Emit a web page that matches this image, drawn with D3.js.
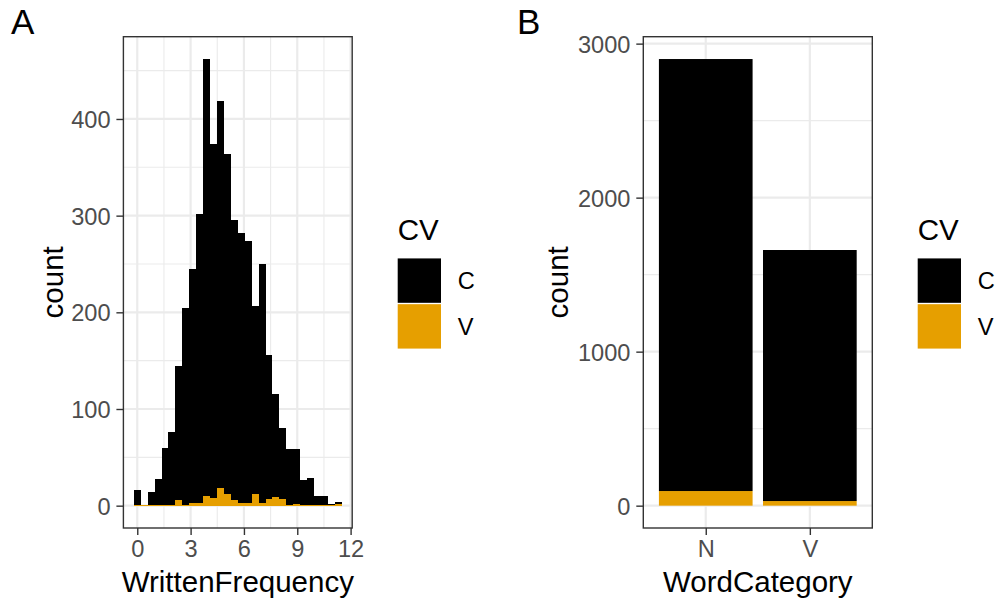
<!DOCTYPE html>
<html>
<head>
<meta charset="utf-8">
<script src="https://cdn.jsdelivr.net/npm/d3@7"></script>
<style>
  html, body { margin: 0; padding: 0; background: #fff; }
  svg { display: block; font-family: "Liberation Sans", Arial, Helvetica, sans-serif; }
</style>
</head>
<body>
<svg id="chart" width="997" height="602"></svg>
<script>
// ---------- Data ----------
// Panel A: histogram of WrittenFrequency (30 bins), stacked by CV
const binStart = [-0.195, 0.195, 0.585, 0.975, 1.365, 1.755, 2.145, 2.535, 2.925, 3.315,
                  3.705, 4.095, 4.485, 4.875, 5.265, 5.655, 6.045, 6.435, 6.825, 7.215,
                  7.605, 7.995, 8.385, 8.775, 9.165, 9.555, 9.945, 10.335, 10.725, 11.115];
const binWidth = 0.39;
const histC = [15, 0, 13, 27, 59, 75, 138, 203, 242, 299, 452, 366, 401, 352, 289,
               279, 271, 195, 247, 149, 106, 73, 58, 57, 26, 28, 9, 9, 1, 2];
const histV = [1, 1, 1, 1, 1, 1, 6, 1, 3, 3, 10, 8, 18, 12, 6,
               3, 3, 12, 3, 7, 9, 7, 1, 2, 1, 1, 1, 1, 1, 2];
const xTicksA = [0, 3, 6, 9, 12];
const xMinorA = [1.5, 4.5, 7.5, 10.5];
const yTicksA = [0, 100, 200, 300, 400];
const yMinorA = [50, 150, 250, 350, 450];

// Panel B: bar chart of WordCategory, stacked by CV
const wordCats = ["N", "V"];
const barC = [2805, 1630];
const barV = [95, 30];
const yTicksB = [0, 1000, 2000, 3000];
const yMinorB = [500, 1500, 2500];

// Legend
const cvLevels = ["C", "V"];
const cvColors = ["#000000", "#E69F00"];

// ---------- Drawing ----------
const svg = d3.select("#chart");
const fill = d3.scaleOrdinal().domain(cvLevels).range(cvColors);

const GRID = "#EBEBEB", INK = "#333333", TICKTXT = "#4D4D4D";
const tickFont = 23.6, titleFont = 29.5, tagFont = 35;

function styleAxis(g) {
  g.select(".domain").remove();
  g.selectAll(".tick line").attr("stroke", INK).attr("stroke-width", 1.4);
  g.selectAll(".tick text").attr("fill", TICKTXT).style("font-size", tickFont + "px");
}

function legend(x0, yTitle) {
  const lg = svg.append("g");
  lg.append("text").attr("x", x0).attr("y", yTitle)
    .style("font-size", titleFont + "px").attr("fill", "#000").text("CV");
  const ky = d3.scaleBand().domain(cvLevels).range([257.5, 349.5]).paddingInner(0.03).paddingOuter(0.02);
  cvLevels.forEach(lv => {
    lg.append("rect").attr("x", x0).attr("y", ky(lv)).attr("width", 43.3).attr("height", ky.bandwidth())
      .attr("fill", fill(lv));
    lg.append("text").attr("x", x0 + 60).attr("y", ky(lv) + ky.bandwidth() / 2 + 8.4)
      .style("font-size", tickFont + "px").attr("fill", "#000").text(lv);
  });
}

// ----- Panel A -----
(function () {
  const L = 123.4, R = 352.2, T = 36.7, B = 528;
  const xMin = binStart[0], xMax = binStart[binStart.length - 1] + binWidth;
  const totals = histC.map((c, i) => c + histV[i]);
  const yMaxData = d3.max(totals);
  const xs = d3.scaleLinear().domain([xMin - 0.05 * (xMax - xMin), xMax + 0.05 * (xMax - xMin)]).range([L, R]);
  const ys = d3.scaleLinear().domain([-0.05 * yMaxData, yMaxData * 1.05]).range([B, T]);

  const g = svg.append("g");
  g.append("rect").attr("x", L).attr("y", T).attr("width", R - L).attr("height", B - T).attr("fill", "#fff");
  // minor grid
  g.selectAll(null).data(xMinorA).enter().append("line")
    .attr("x1", d => xs(d)).attr("x2", d => xs(d)).attr("y1", T).attr("y2", B)
    .attr("stroke", GRID).attr("stroke-width", 1.1);
  g.selectAll(null).data(yMinorA).enter().append("line")
    .attr("y1", d => ys(d)).attr("y2", d => ys(d)).attr("x1", L).attr("x2", R)
    .attr("stroke", GRID).attr("stroke-width", 1.1);
  // major grid
  g.selectAll(null).data(xTicksA).enter().append("line")
    .attr("x1", d => xs(d)).attr("x2", d => xs(d)).attr("y1", T).attr("y2", B)
    .attr("stroke", GRID).attr("stroke-width", 2.2);
  g.selectAll(null).data(yTicksA).enter().append("line")
    .attr("y1", d => ys(d)).attr("y2", d => ys(d)).attr("x1", L).attr("x2", R)
    .attr("stroke", GRID).attr("stroke-width", 2.2);

  // stacked bars: V at bottom, C on top
  const bins = binStart.map((s, i) => ({ s, c: histC[i], v: histV[i] }));
  g.selectAll(null).data(bins.filter(d => d.v > 0)).enter().append("rect")
    .attr("x", d => xs(d.s)).attr("width", d => xs(d.s + binWidth) - xs(d.s))
    .attr("y", d => ys(d.v)).attr("height", d => ys(0) - ys(d.v))
    .attr("fill", fill("V")).attr("shape-rendering", "crispEdges");
  g.selectAll(null).data(bins.filter(d => d.c > 0)).enter().append("rect")
    .attr("x", d => xs(d.s)).attr("width", d => xs(d.s + binWidth) - xs(d.s))
    .attr("y", d => ys(d.v + d.c)).attr("height", d => ys(d.v) - ys(d.v + d.c))
    .attr("fill", fill("C")).attr("shape-rendering", "crispEdges");

  g.append("rect").attr("x", L).attr("y", T).attr("width", R - L).attr("height", B - T)
    .attr("fill", "none").attr("stroke", INK).attr("stroke-width", 1.4);

  const ax = g.append("g").attr("transform", `translate(0,${B})`)
    .call(d3.axisBottom(xs).tickValues(xTicksA).tickSize(7).tickPadding(5.7).tickFormat(d3.format("d")));
  styleAxis(ax);
  const ay = g.append("g").attr("transform", `translate(${L},0)`)
    .call(d3.axisLeft(ys).tickValues(yTicksA).tickSize(7).tickPadding(5.9).tickFormat(d3.format("d")));
  styleAxis(ay);
  ay.selectAll(".tick text").attr("dy", "0.358em");

  svg.append("text").attr("x", (L + R) / 2).attr("y", 592).attr("text-anchor", "middle")
    .style("font-size", titleFont + "px").text("WrittenFrequency");
  svg.append("text").attr("transform", `translate(63,${(T + B) / 2}) rotate(-90)`).attr("text-anchor", "middle")
    .style("font-size", titleFont + "px").text("count");
  svg.append("text").attr("x", 11).attr("y", 34).style("font-size", tagFont + "px").text("A");
  legend(397.7, 239.5);
})();

// ----- Panel B -----
(function () {
  const L = 643.3, R = 872.3, T = 36.7, B = 528;
  const totals = barC.map((c, i) => c + barV[i]);
  const yMaxData = d3.max(totals);
  const xs = d3.scalePoint().domain(wordCats).range([L + 0.6 / 2.2 * (R - L), R - 0.6 / 2.2 * (R - L)]);
  const unit = xs.step();
  const ys = d3.scaleLinear().domain([-0.05 * yMaxData, yMaxData * 1.05]).range([B, T]);

  const g = svg.append("g");
  g.append("rect").attr("x", L).attr("y", T).attr("width", R - L).attr("height", B - T).attr("fill", "#fff");
  g.selectAll(null).data(yMinorB).enter().append("line")
    .attr("y1", d => ys(d)).attr("y2", d => ys(d)).attr("x1", L).attr("x2", R)
    .attr("stroke", GRID).attr("stroke-width", 1.1);
  g.selectAll(null).data(wordCats).enter().append("line")
    .attr("x1", d => xs(d)).attr("x2", d => xs(d)).attr("y1", T).attr("y2", B)
    .attr("stroke", GRID).attr("stroke-width", 2.2);
  g.selectAll(null).data(yTicksB).enter().append("line")
    .attr("y1", d => ys(d)).attr("y2", d => ys(d)).attr("x1", L).attr("x2", R)
    .attr("stroke", GRID).attr("stroke-width", 2.2);

  const bars = wordCats.map((k, i) => ({ k, c: barC[i], v: barV[i] }));
  const bw = 0.9 * unit;
  g.selectAll(null).data(bars).enter().append("rect")
    .attr("x", d => xs(d.k) - bw / 2).attr("width", bw)
    .attr("y", d => ys(d.v)).attr("height", d => ys(0) - ys(d.v))
    .attr("fill", fill("V"));
  g.selectAll(null).data(bars).enter().append("rect")
    .attr("x", d => xs(d.k) - bw / 2).attr("width", bw)
    .attr("y", d => ys(d.v + d.c)).attr("height", d => ys(d.v) - ys(d.v + d.c))
    .attr("fill", fill("C"));

  g.append("rect").attr("x", L).attr("y", T).attr("width", R - L).attr("height", B - T)
    .attr("fill", "none").attr("stroke", INK).attr("stroke-width", 1.4);

  const ax = g.append("g").attr("transform", `translate(0,${B})`)
    .call(d3.axisBottom(xs).tickSize(7).tickPadding(5.7));
  styleAxis(ax);
  const ay = g.append("g").attr("transform", `translate(${L},0)`)
    .call(d3.axisLeft(ys).tickValues(yTicksB).tickSize(7).tickPadding(5.9).tickFormat(d3.format("d")));
  styleAxis(ay);
  ay.selectAll(".tick text").attr("dy", "0.358em");

  svg.append("text").attr("x", (L + R) / 2).attr("y", 592).attr("text-anchor", "middle")
    .style("font-size", titleFont + "px").text("WordCategory");
  svg.append("text").attr("transform", `translate(568,${(T + B) / 2}) rotate(-90)`).attr("text-anchor", "middle")
    .style("font-size", titleFont + "px").text("count");
  svg.append("text").attr("x", 517, ).attr("y", 34).style("font-size", tagFont + "px").text("B");
  legend(917.7, 239.5);
})();
</script>
</body>
</html>
